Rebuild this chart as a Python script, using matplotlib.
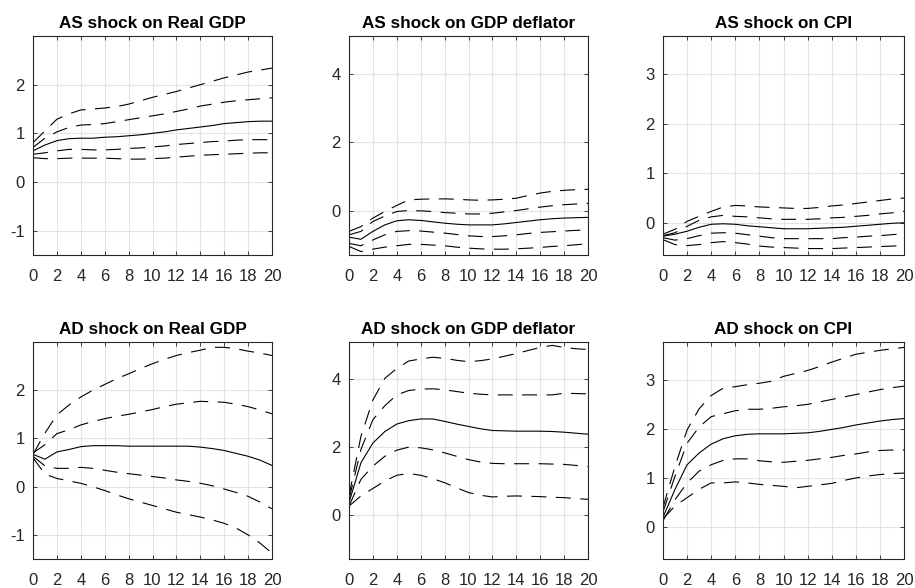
import matplotlib
matplotlib.use("Agg")
import matplotlib.pyplot as plt
import numpy as np

plt.rcParams['font.family'] = ['Liberation Sans', 'DejaVu Sans']
plt.rcParams['axes.unicode_minus'] = False

horizon = list(range(21))

titles = ["AS shock on Real GDP", "AS shock on GDP deflator", "AS shock on CPI",
          "AD shock on Real GDP", "AD shock on GDP deflator", "AD shock on CPI"]

# AS shock on Real GDP
as_gdp_med = [0.64,0.76,0.85,0.89,0.9,0.9,0.92,0.93,0.95,0.97,1.0,1.03,1.07,1.1,1.13,1.16,1.2,1.22,1.24,1.25,1.25]
as_gdp_uo = [0.81,1.05,1.29,1.4,1.48,1.5,1.52,1.55,1.6,1.67,1.74,1.8,1.86,1.93,2.0,2.07,2.14,2.2,2.26,2.3,2.34]
as_gdp_ui = [0.71,0.9,1.03,1.12,1.17,1.18,1.2,1.24,1.28,1.32,1.36,1.4,1.45,1.5,1.56,1.6,1.64,1.67,1.69,1.71,1.73]
as_gdp_li = [0.57,0.6,0.64,0.67,0.67,0.66,0.66,0.67,0.69,0.7,0.72,0.74,0.77,0.79,0.81,0.83,0.84,0.86,0.87,0.87,0.87]
as_gdp_lo = [0.5,0.48,0.48,0.49,0.49,0.49,0.49,0.48,0.47,0.47,0.48,0.49,0.51,0.53,0.55,0.56,0.57,0.58,0.59,0.6,0.6]

# AS shock on GDP deflator
as_def_med = [-0.78,-0.84,-0.61,-0.42,-0.3,-0.27,-0.29,-0.33,-0.37,-0.4,-0.42,-0.42,-0.42,-0.39,-0.35,-0.31,-0.27,-0.24,-0.22,-0.21,-0.2]
as_def_uo = [-0.61,-0.47,-0.22,-0.03,0.15,0.31,0.33,0.34,0.34,0.33,0.31,0.3,0.31,0.33,0.36,0.44,0.51,0.56,0.59,0.61,0.62]
as_def_ui = [-0.71,-0.61,-0.32,-0.16,-0.03,0.0,-0.01,-0.03,-0.06,-0.08,-0.1,-0.1,-0.08,-0.04,0.0,0.05,0.1,0.14,0.17,0.19,0.21]
as_def_li = [-0.96,-1.03,-0.86,-0.71,-0.61,-0.59,-0.6,-0.63,-0.66,-0.7,-0.74,-0.76,-0.76,-0.74,-0.71,-0.67,-0.64,-0.62,-0.6,-0.58,-0.57]
as_def_lo = [-1.05,-1.2,-1.13,-1.07,-1.03,-0.99,-0.99,-1.01,-1.03,-1.07,-1.1,-1.12,-1.13,-1.13,-1.12,-1.1,-1.08,-1.05,-1.03,-1.0,-0.97]

# AS shock on CPI
as_cpi_med = [-0.27,-0.23,-0.17,-0.09,-0.03,-0.02,-0.03,-0.06,-0.08,-0.1,-0.12,-0.12,-0.12,-0.11,-0.1,-0.09,-0.07,-0.05,-0.03,-0.01,0.0]
as_cpi_uo = [-0.23,-0.13,0.03,0.13,0.23,0.32,0.35,0.34,0.32,0.31,0.3,0.29,0.29,0.31,0.34,0.36,0.39,0.42,0.45,0.48,0.5]
as_cpi_ui = [-0.26,-0.2,-0.07,0.05,0.12,0.15,0.13,0.12,0.1,0.08,0.07,0.07,0.07,0.08,0.1,0.11,0.13,0.15,0.18,0.2,0.23]
as_cpi_li = [-0.3,-0.35,-0.32,-0.26,-0.21,-0.2,-0.21,-0.24,-0.27,-0.3,-0.32,-0.32,-0.32,-0.32,-0.32,-0.3,-0.29,-0.27,-0.26,-0.24,-0.22]
as_cpi_lo = [-0.34,-0.44,-0.46,-0.44,-0.4,-0.38,-0.4,-0.43,-0.47,-0.49,-0.5,-0.51,-0.52,-0.52,-0.52,-0.51,-0.5,-0.49,-0.48,-0.47,-0.46]

# AD shock on Real GDP
ad_gdp_med = [0.67,0.57,0.72,0.77,0.83,0.85,0.85,0.85,0.84,0.84,0.84,0.84,0.84,0.84,0.82,0.79,0.75,0.69,0.63,0.55,0.44]
ad_gdp_uo = [0.67,1.11,1.49,1.69,1.86,2.0,2.12,2.24,2.34,2.45,2.55,2.64,2.72,2.78,2.83,2.89,2.89,2.86,2.81,2.77,2.72]
ad_gdp_ui = [0.7,0.87,1.1,1.18,1.28,1.35,1.41,1.46,1.5,1.55,1.6,1.66,1.71,1.74,1.77,1.76,1.75,1.71,1.66,1.59,1.51]
ad_gdp_li = [0.63,0.43,0.38,0.38,0.4,0.38,0.34,0.3,0.27,0.24,0.21,0.18,0.14,0.11,0.07,0.02,-0.05,-0.12,-0.2,-0.32,-0.46]
ad_gdp_lo = [0.6,0.26,0.17,0.12,0.07,0.0,-0.08,-0.17,-0.25,-0.32,-0.39,-0.46,-0.53,-0.58,-0.63,-0.69,-0.76,-0.86,-1.0,-1.17,-1.38]

# AD shock on GDP deflator
ad_def_med = [0.36,1.54,2.12,2.46,2.68,2.78,2.83,2.83,2.76,2.68,2.61,2.54,2.49,2.48,2.47,2.47,2.47,2.46,2.44,2.41,2.38]
ad_def_uo = [0.56,2.32,3.39,4.03,4.32,4.54,4.6,4.65,4.62,4.56,4.52,4.55,4.6,4.68,4.76,4.85,4.94,5.0,4.94,4.9,4.88]
ad_def_ui = [0.46,1.93,2.81,3.22,3.54,3.67,3.71,3.72,3.69,3.64,3.59,3.56,3.54,3.54,3.54,3.54,3.54,3.54,3.59,3.58,3.57]
ad_def_li = [0.26,1.05,1.44,1.73,1.91,2.0,1.98,1.92,1.83,1.73,1.63,1.56,1.52,1.51,1.51,1.51,1.51,1.5,1.49,1.46,1.42]
ad_def_lo = [0.26,0.56,0.78,1.0,1.17,1.22,1.17,1.07,0.95,0.8,0.66,0.58,0.53,0.55,0.56,0.55,0.54,0.52,0.51,0.48,0.46]

# AD shock on CPI
ad_cpi_med = [0.2,0.77,1.27,1.51,1.69,1.8,1.86,1.89,1.9,1.9,1.9,1.91,1.92,1.95,1.99,2.03,2.08,2.12,2.16,2.19,2.21]
ad_cpi_uo = [0.4,1.24,1.98,2.41,2.68,2.83,2.86,2.9,2.93,2.97,3.07,3.13,3.19,3.27,3.36,3.44,3.52,3.56,3.6,3.63,3.66]
ad_cpi_ui = [0.31,1.04,1.71,2.04,2.25,2.31,2.37,2.4,2.4,2.42,2.45,2.47,2.5,2.55,2.6,2.65,2.7,2.75,2.8,2.84,2.87]
ad_cpi_li = [0.13,0.56,0.9,1.14,1.27,1.36,1.39,1.39,1.35,1.33,1.32,1.34,1.36,1.39,1.42,1.46,1.49,1.53,1.56,1.57,1.57]
ad_cpi_lo = [0.17,0.43,0.6,0.77,0.9,0.9,0.92,0.9,0.87,0.85,0.83,0.8,0.83,0.86,0.89,0.95,1.0,1.04,1.07,1.09,1.1]

x_ticks = [0, 2, 4, 6, 8, 10, 12, 14, 16, 18, 20]
y_ticks_col = [[-1, 0, 1, 2], [0, 2, 4], [0, 1, 2, 3]]
y_lims_col = [(-1.5, 3.0), (-1.3, 5.1), (-0.65, 3.77)]

panels = [
    (as_gdp_med, [as_gdp_uo, as_gdp_ui, as_gdp_li, as_gdp_lo]),
    (as_def_med, [as_def_uo, as_def_ui, as_def_li, as_def_lo]),
    (as_cpi_med, [as_cpi_uo, as_cpi_ui, as_cpi_li, as_cpi_lo]),
    (ad_gdp_med, [ad_gdp_uo, ad_gdp_ui, ad_gdp_li, ad_gdp_lo]),
    (ad_def_med, [ad_def_uo, ad_def_ui, ad_def_li, ad_def_lo]),
    (ad_cpi_med, [ad_cpi_uo, ad_cpi_ui, ad_cpi_li, ad_cpi_lo]),
]

W, H = 915, 588
fig = plt.figure(figsize=(W / 100, H / 100), dpi=100)

col_x = [33, 349, 663]
col_w = [239, 239, 241]
row_top = [36, 342]
row_h = [219, 217]

dark = '#262626'
for i, (med, bands) in enumerate(panels):
    r, c = divmod(i, 3)
    left = col_x[c] / W
    bottom = 1 - (row_top[r] + row_h[r]) / H
    ax = fig.add_axes([left, bottom, col_w[c] / W, row_h[r] / H])
    for b in bands:
        ax.plot(horizon, b, color='black', lw=0.8, linestyle=(0, (13.5, 8.5)))
    ax.plot(horizon, med, color='black', lw=0.8)
    ax.set_xlim(0, 20)
    ax.set_ylim(*y_lims_col[c])
    ax.set_xticks(x_ticks)
    ax.set_yticks(y_ticks_col[c])
    ax.grid(True, color='#e3e3e3', lw=0.8)
    ax.set_axisbelow(True)
    ax.tick_params(direction='in', top=True, right=True, length=3, width=0.6,
                   colors=dark, labelsize=12)
    ax.tick_params(axis='x', pad=9.8)
    ax.tick_params(axis='y', pad=6)
    for s in ax.spines.values():
        s.set_color(dark)
        s.set_linewidth(0.8)
    ax.set_title(titles[i], fontsize=12.3, fontweight='bold', pad=6)

fig.savefig('out.png', dpi=100)
